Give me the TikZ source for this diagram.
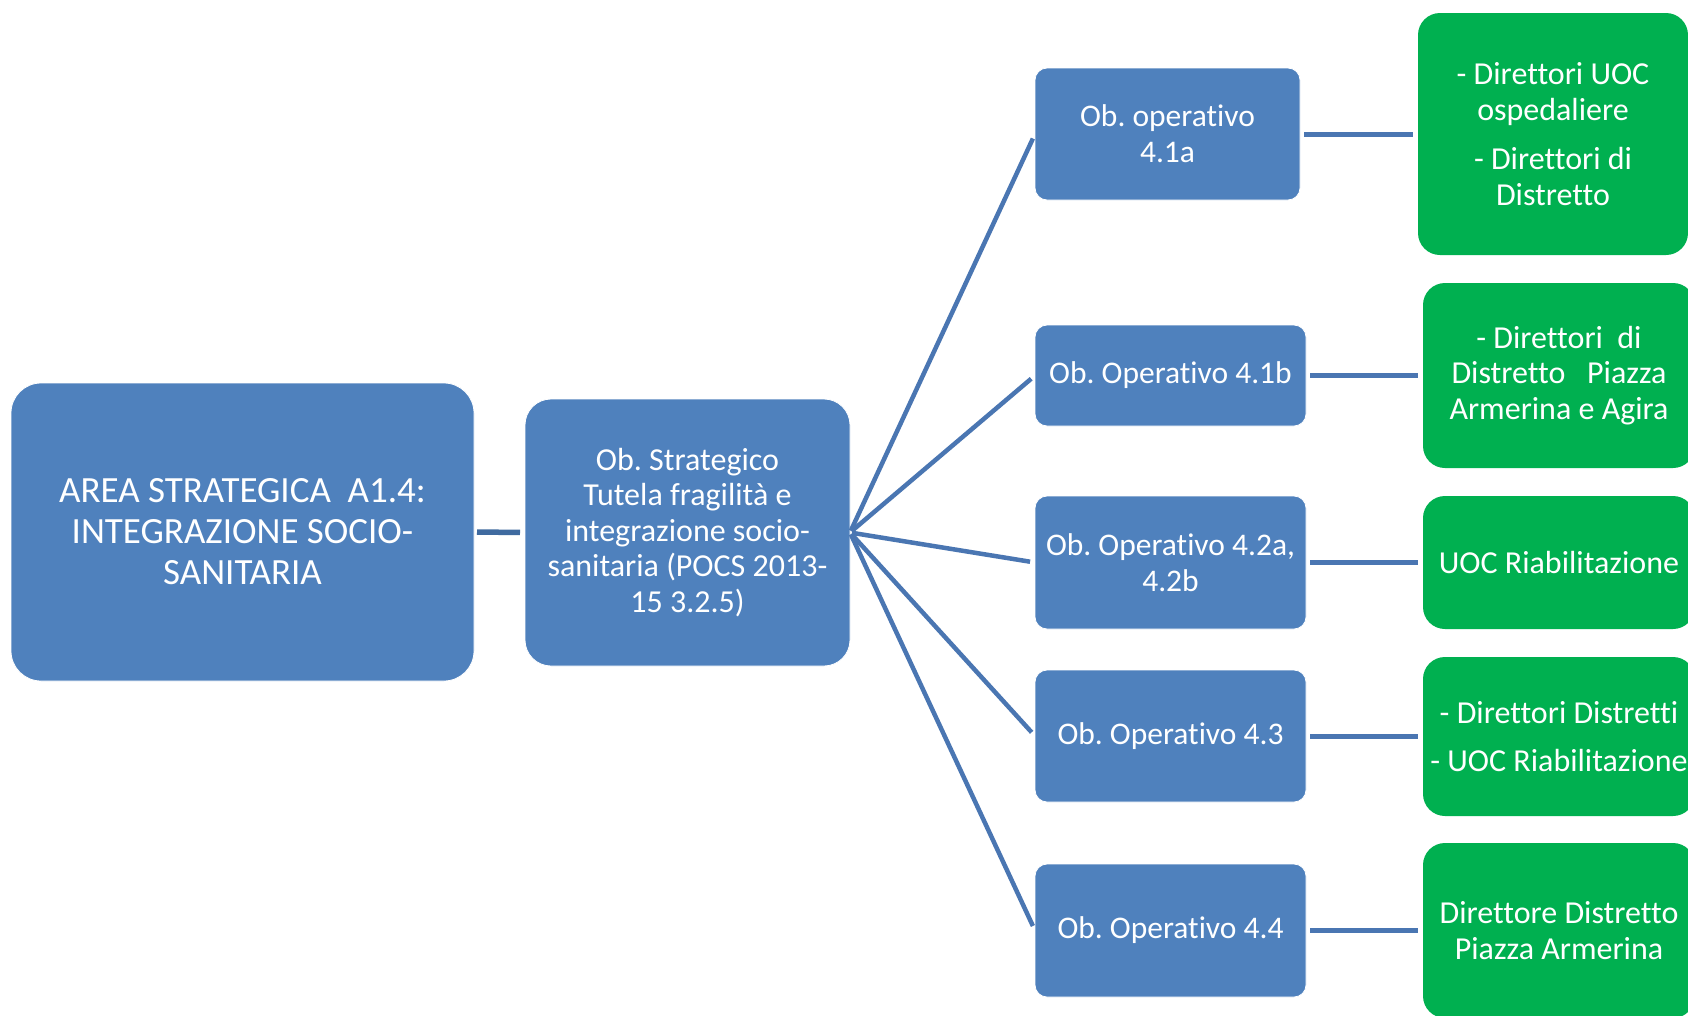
\documentclass[tikz,border=0pt]{standalone}
\usepackage{fontspec}
\setmainfont{Carlito}[Ligatures=NoCommon]
\begin{document}
\frenchspacing
\begin{tikzpicture}[x=1pt,y=-1pt,
  every node/.style={inner sep=0pt, outer sep=0pt, text=white, align=center},
  bluebox/.style={fill=boxblue, draw=white, line width=0.8pt, rectangle, rounded corners=#1},
  bluebox/.default=12pt,
  greenbox/.style={fill=boxgreen, rectangle, rounded corners=22pt},
  link/.style={draw=lineblue, line width=#1},
  link/.default=4.5pt]
\definecolor{boxblue}{HTML}{4F81BD}
\definecolor{boxgreen}{HTML}{00B050}
\definecolor{lineblue}{HTML}{4A76B2}
\definecolor{darkline}{HTML}{3F6A9F}
\useasboundingbox (0,0) rectangle (1688,1015);
\fill[white] (0,0) rectangle (1688,1015);

% main area and strategic objective
\node[bluebox=30pt, minimum width=463pt, minimum height=298pt, font=\fontsize{37}{41}\selectfont]
  (area) at (242.5,532) {AREA STRATEGICA \ A1.4:\\INTEGRAZIONE SOCIO-\\SANITARIA};
\node[bluebox=26pt, minimum width=325pt, minimum height=267pt, font=\fontsize{32}{35.5}\selectfont]
  (strat) at (687.5,532.5) {Ob. Strategico\\Tutela fragilità e\\integrazione socio-\\sanitaria (POCS 2013-\\15 3.2.5)};

% operative objectives
\begin{scope}[every node/.append style={font=\fontsize{31.5}{36}\selectfont}]
\node[bluebox, minimum width=265pt, minimum height=132pt] (opa) at (1167.5,134) {Ob. operativo\\4.1a};
\node[bluebox, minimum width=271pt, minimum height=101pt] (opb) at (1170.5,375.5) {Ob. Operativo 4.1b};
\node[bluebox, minimum width=271pt, minimum height=133pt] (opc) at (1170.5,562.5) {Ob. Operativo 4.2a,\\4.2b};
\node[bluebox, minimum width=271pt, minimum height=132pt] (opd) at (1170.5,736) {Ob. Operativo 4.3};
\node[bluebox, minimum width=271pt, minimum height=133pt] (ope) at (1170.5,930.5) {Ob. Operativo 4.4};
\end{scope}

% responsible units
\begin{scope}[every node/.append style={font=\fontsize{32}{35.5}\selectfont}]
\node[greenbox, minimum width=270pt, minimum height=242pt] (ga) at (1553,134)
  {- Direttori UOC\\ospedaliere\\[14pt]- Direttori di\\Distretto};
\node[greenbox, minimum width=272pt, minimum height=185pt] (gb) at (1559,375.5)
  {- Direttori \ di\\Distretto \ \ Piazza\\Armerina e Agira};
\node[greenbox, minimum width=272pt, minimum height=133pt] (gc) at (1559,562.5)
  {UOC Riabilitazione};
\node[greenbox, minimum width=272pt, minimum height=159pt] (gd) at (1559,736.5)
  {- Direttori Distretti\\[13pt]- UOC Riabilitazione};
\node[greenbox, minimum width=272pt, minimum height=175pt] (ge) at (1559,930.5)
  {Direttore Distretto\\Piazza Armerina};
\end{scope}

% connectors
\draw[link=5.5pt, draw=darkline, shorten <=3pt, shorten >=5pt] (area.east) -- (strat.west);
\foreach \o in {opa,opb,opc,opd,ope}
  \draw[link, shorten <=2pt, shorten >=5pt] (strat.east) -- (\o.west);
\foreach \o/\g in {opa/ga,opb/gb,opc/gc,opd/gd,ope/ge}
  \draw[link=5pt, shorten <=4pt, shorten >=5pt] (\o.east) -- (\o.east -| \g.west);
\end{tikzpicture}
\end{document}
